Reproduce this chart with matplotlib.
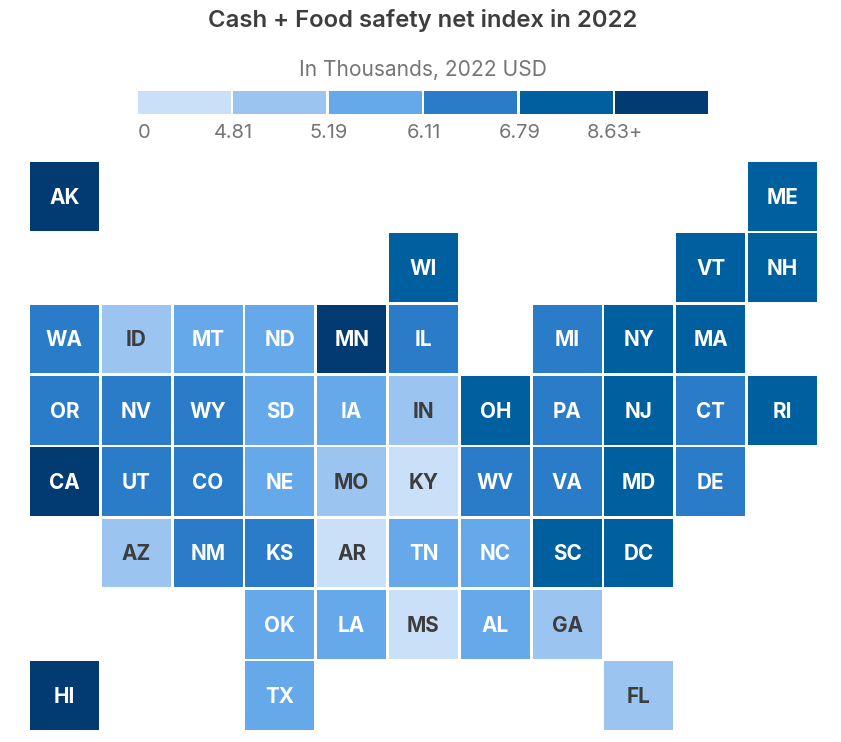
import matplotlib
matplotlib.use('Agg')
import matplotlib.pyplot as plt

W = 841
H = 742

plt.rcParams['font.family'] = ['Inter', 'DejaVu Sans']

states = ['AK', 'ME',
          'WI', 'VT', 'NH',
          'WA', 'ID', 'MT', 'ND', 'MN', 'IL', 'MI', 'NY', 'MA',
          'OR', 'NV', 'WY', 'SD', 'IA', 'IN', 'OH', 'PA', 'NJ', 'CT', 'RI',
          'CA', 'UT', 'CO', 'NE', 'MO', 'KY', 'WV', 'VA', 'MD', 'DE',
          'AZ', 'NM', 'KS', 'AR', 'TN', 'NC', 'SC', 'DC',
          'OK', 'LA', 'MS', 'AL', 'GA',
          'HI', 'TX', 'FL']
cols = [0, 10,
        5, 9, 10,
        0, 1, 2, 3, 4, 5, 7, 8, 9,
        0, 1, 2, 3, 4, 5, 6, 7, 8, 9, 10,
        0, 1, 2, 3, 4, 5, 6, 7, 8, 9,
        1, 2, 3, 4, 5, 6, 7, 8,
        3, 4, 5, 6, 7,
        0, 3, 8]
rows = [0, 0,
        1, 1, 1,
        2, 2, 2, 2, 2, 2, 2, 2, 2,
        3, 3, 3, 3, 3, 3, 3, 3, 3, 3, 3,
        4, 4, 4, 4, 4, 4, 4, 4, 4, 4,
        5, 5, 5, 5, 5, 5, 5, 5,
        6, 6, 6, 6, 6,
        7, 7, 7]
# bin index of each state, 0 = lightest
bins = [5, 4,
        4, 4, 4,
        3, 1, 2, 2, 5, 3, 3, 4, 4,
        3, 3, 3, 2, 2, 1, 4, 3, 4, 3, 4,
        5, 3, 3, 2, 1, 0, 3, 3, 4, 3,
        1, 3, 3, 0, 2, 2, 4, 4,
        2, 2, 0, 2, 1,
        5, 2, 1]

palette = ['#c9e0f8', '#9bc4f0', '#66a9eb', '#2a7cc9', '#00609f', '#023a72']
legend_labels = ['0', '4.81', '5.19', '6.11', '6.79', '8.63+']

TITLE_COLOR = '#3d3d3d'
MUTED = '#757575'

fig = plt.figure(figsize=(W / 100, H / 100), dpi=100, facecolor='white')


def add_axes_px(left, top, right, bottom):
    return fig.add_axes([left / W, 1 - bottom / H, (right - left) / W, (bottom - top) / H])


# tile grid, one unit = one cell
ax = add_axes_px(30, 162, 817, 730)
ax.set_xlim(0, 11 - 0.04)
ax.set_ylim(8 - 0.04, 0)
ax.axis('off')
ax.bar(cols, 0.96, bottom=rows, width=0.96, align='edge',
       color=[palette[b] for b in bins], linewidth=0)
for s, c, r, b in zip(states, cols, rows, bins):
    ax.text(c + 0.48, r + 0.47, s, ha='center', va='center_baseline', fontsize=14.9,
            fontweight='bold', color=TITLE_COLOR if b < 2 else 'white')

# legend strip
lax = add_axes_px(138, 91, 708, 114)
lax.set_xlim(0, 5.975)
lax.set_ylim(0, 1)
for side in lax.spines.values():
    side.set_visible(False)
lax.set_yticks([])
lax.bar(range(6), 1, width=0.975, align='edge', color=palette, linewidth=0)
lax.tick_params(axis='x', length=0, pad=7, labelsize=14.4, labelcolor=MUTED)
lax.set_xticks(range(6), legend_labels)
lax.get_xticklabels()[0].set_ha('left')
lax.text(2.99, 1.9, 'In Thousands, 2022 USD', ha='center', va='center', fontsize=15.1, color=MUTED,
         transform=lax.get_xaxis_transform())

fig.text(423 / W, 1 - 20.5 / H, 'Cash + Food safety net index in 2022', ha='center', va='center',
         fontsize=17.2, fontweight='semibold', color=TITLE_COLOR)

fig.savefig('out.png', dpi=100)
